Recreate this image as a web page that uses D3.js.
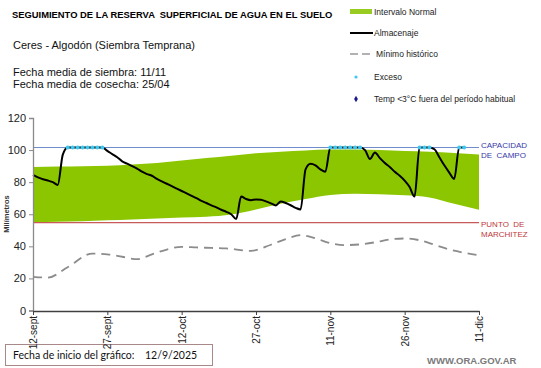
<!DOCTYPE html>
<html><head><meta charset="utf-8">
<script src="https://cdn.jsdelivr.net/npm/d3@7"></script>
<style>body{margin:0;background:#fff}svg{display:block}text{font-family:Arial,"Liberation Sans",sans-serif}</style>
</head><body><svg id="c" width="541" height="368"></svg>
<script>
// ---- data ----
const startDate = new Date(2025, 8, 12);
const xTickDays = [0, 15, 30, 45, 60, 75, 90];
const xTickLabels = ["12-sept", "27-sept", "12-oct", "27-oct", "11-nov", "26-nov", "11-dic"];
const yTicks = [0, 20, 40, 60, 80, 100, 120];
const capacidad = 101.6;
const marchitez = 54.8;
// Intervalo normal (every 5 days)
const bandDays  = [0, 5, 10, 15, 20, 25, 30, 35, 40, 45, 50, 55, 60, 65, 70, 75, 80, 85, 90];
const bandUpper = [89.5, 89.8, 90, 90.2, 91, 92, 93.5, 95, 96.5, 98, 99, 99.8, 100.3, 100.3, 100, 99.5, 99, 98.2, 97.2];
const bandLower = [55, 55.3, 55.7, 56.2, 56.8, 57.4, 57.9, 58.4, 59.8, 63, 66.5, 69.5, 72, 72.8, 72.5, 71.8, 70.5, 66.5, 62.8];
// Almacenaje (daily, from start date)
const almacenaje = [84.5, 83, 81.8, 81, 80, 78.3, 97, 101.6, 101.6, 101.6, 101.6, 101.6, 101.6, 101.6, 101.6,
  99.5, 97.5, 95.5, 93, 91.5, 90, 88.5, 86.5, 85, 84, 82, 80.5, 79, 77.5, 76, 74.5, 73, 71.5, 70, 68.3, 67,
  65.5, 64.3, 62.8, 61.5, 60, 57, 71, 69.5, 68.8, 69.2, 69, 68, 66.8, 65.5, 68, 67, 65.6, 64, 63, 88, 91.5,
  90.5, 88, 86.5, 101.6, 101.6, 101.6, 101.6, 101.6, 101.6, 101.6, 100, 94.5, 98.5, 95, 92, 89.5, 86.5, 84,
  81, 77, 71, 101.6, 101.6, 101.6, 100.5, 95.5, 90.5, 86, 82, 101.6, 101.6];
// Exceso (days at field capacity)
const excesoDays = [7, 8, 9, 10, 11, 12, 13, 14, 60, 61, 62, 63, 64, 65, 66, 78, 79, 80, 86, 87];
// Mínimo histórico
const minDays = [0, 3, 7, 12, 15, 18, 21, 24, 27, 30, 33, 36, 39, 44, 48, 51, 54, 57, 60, 63, 66, 69, 72, 75, 78, 81, 84, 87, 90];
const minVals = [21, 20.5, 27, 35.5, 35, 33.5, 32, 35, 38, 39.7, 39.3, 39, 38.7, 37.2, 41, 44.5, 47, 45, 42, 40.8, 41.2, 42.5, 44.3, 44.9, 43.8, 41, 38, 36, 34.5];

// ---- chart ----
const dayToDate = d => d3.timeDay.offset(startDate, d);
const svg = d3.select("#c");
const x = d3.scaleTime().domain([dayToDate(0), dayToDate(90)]).range([33, 479]);
const y = d3.scaleLinear().domain([0, 120]).range([310.5, 118]);

// footer box (behind everything)
svg.append("rect").attr("x", 5.5).attr("y", 344.5).attr("width", 207).attr("height", 21).attr("fill", "none").attr("stroke", "#a88888");

// band
const area = d3.area().x((d, i) => x(dayToDate(bandDays[i]))).y0((d, i) => y(bandLower[i])).y1((d, i) => y(bandUpper[i])).curve(d3.curveMonotoneX);
svg.append("path").attr("d", area(bandDays)).attr("fill", "#8cc600");

// reference lines
svg.append("line").attr("x1", x(dayToDate(0))).attr("x2", x(dayToDate(90))).attr("y1", y(capacidad)).attr("y2", y(capacidad)).attr("stroke", "#6f8ccc").attr("stroke-width", 1.2);
svg.append("line").attr("x1", x(dayToDate(0))).attr("x2", x(dayToDate(90))).attr("y1", y(marchitez)).attr("y2", y(marchitez)).attr("stroke", "#c85a5a").attr("stroke-width", 1.2);

// minimo historico
const minLine = d3.line().x((d, i) => x(dayToDate(minDays[i]))).y((d, i) => y(minVals[i])).curve(d3.curveMonotoneX);
svg.append("path").attr("d", minLine(minDays)).attr("fill", "none").attr("stroke", "#8c8c8c").attr("stroke-width", 1.8).attr("stroke-dasharray", "9,6");

// almacenaje
const almLine = d3.line().x((d, i) => x(dayToDate(i))).y(d => y(d)).curve(d3.curveMonotoneX);
svg.append("path").attr("d", almLine(almacenaje)).attr("fill", "none").attr("stroke", "#000").attr("stroke-width", 2);

// exceso
svg.selectAll(".exc").data(excesoDays).enter().append("circle")
  .attr("cx", d => x(dayToDate(d))).attr("cy", d => y(almacenaje[d])).attr("r", 2).attr("fill", "#3cc8f0");

// axes
const yAxis = svg.append("g").attr("transform", "translate(33,0)").call(d3.axisLeft(y).tickValues(yTicks).tickSize(4).tickPadding(3));
yAxis.select(".domain").attr("stroke", "#8a8a8a").attr("stroke-width", 1.3);
yAxis.selectAll(".tick line").attr("stroke", "#8a8a8a");
yAxis.selectAll("text").attr("font-size", 11).attr("fill", "#222").attr("font-family", "Arial");

const xAxis = svg.append("g").attr("transform", "translate(0,311)").call(
  d3.axisBottom(x).tickValues(xTickDays.map(dayToDate)).tickFormat((d, i) => xTickLabels[i]).tickSize(4).tickSizeOuter(0));
xAxis.select(".domain").attr("stroke", "#404040").attr("stroke-width", 1.3);
xAxis.selectAll(".tick line").attr("stroke", "#404040");
xAxis.selectAll("text").attr("font-size", 10).attr("fill", "#222").attr("font-family", "Arial")
  .attr("transform", "rotate(-90)").attr("text-anchor", "end").attr("x", -5).attr("y", 0).attr("dy", "0.35em");

svg.append("text").attr("transform", "translate(9,214) rotate(-90)").attr("text-anchor", "middle")
  .attr("font-size", 7.5).attr("font-weight", "bold").attr("fill", "#333").text("Milímetros");

// right labels
const rl = svg.append("g").attr("font-size", 8).attr("font-family", "Arial");
rl.append("text").attr("x", 481).attr("y", 148).attr("fill", "#3838a8").text("CAPACIDAD");
rl.append("text").attr("x", 481).attr("y", 158).attr("fill", "#3838a8").text("DE  CAMPO").style("white-space", "pre");
rl.append("text").attr("x", 481).attr("y", 227).attr("fill", "#c0383a").text("PUNTO  DE").style("white-space", "pre");
rl.append("text").attr("x", 481).attr("y", 237).attr("fill", "#c0383a").text("MARCHITEZ");

// titles
svg.append("text").attr("x", 12).attr("y", 18).attr("font-size", 9.4).attr("font-weight", "bold").attr("fill", "#000")
  .style("white-space", "pre").text("SEGUIMIENTO DE LA RESERVA  SUPERFICIAL DE AGUA EN EL SUELO");
svg.append("text").attr("x", 13).attr("y", 49).attr("font-size", 11).attr("fill", "#111").text("Ceres - Algodón (Siembra Temprana)");
svg.append("text").attr("x", 13).attr("y", 75.5).attr("font-size", 11).attr("fill", "#111").text("Fecha media de siembra: 11/11");
svg.append("text").attr("x", 13).attr("y", 87.5).attr("font-size", 11).attr("fill", "#111").text("Fecha media de cosecha: 25/04");

// legend
const lg = svg.append("g").attr("font-size", 8.5).attr("fill", "#222");
lg.append("rect").attr("x", 350).attr("y", 9).attr("width", 22).attr("height", 5).attr("fill", "#99cc22");
lg.append("text").attr("x", 374).attr("y", 15).text("Intervalo Normal");
lg.append("line").attr("x1", 350).attr("x2", 373).attr("y1", 33).attr("y2", 33).attr("stroke", "#000").attr("stroke-width", 2);
lg.append("text").attr("x", 374).attr("y", 36).text("Almacenaje");
lg.append("line").attr("x1", 350).attr("x2", 372).attr("y1", 54).attr("y2", 54).attr("stroke", "#999").attr("stroke-width", 1.3).attr("stroke-dasharray", "8,4");
lg.append("text").attr("x", 376).attr("y", 57).text("Mínimo histórico");
lg.append("circle").attr("cx", 356).attr("cy", 77).attr("r", 1.6).attr("fill", "#3cc8f0");
lg.append("text").attr("x", 374).attr("y", 80).text("Exceso");
lg.append("path").attr("d", d3.symbol().type(d3.symbolDiamond).size(12)()).attr("transform", "translate(356,99)").attr("fill", "#1a1a8c");
lg.append("text").attr("x", 374).attr("y", 102).text("Temp <3°C fuera del período habitual");

// footer
svg.append("text").attr("x", 13).attr("y", 359).attr("font-size", 10.5).attr("fill", "#111").style("font-family", "Lato,Arial").text("Fecha de inicio del gráfico:");
svg.append("text").attr("x", 145).attr("y", 359).attr("font-size", 10.5).attr("fill", "#111").style("font-family", "Lato,Arial").text("12/9/2025");
svg.append("text").attr("x", 427).attr("y", 364).attr("font-size", 9.5).attr("font-weight", "bold").attr("fill", "#7a7a7a").text("WWW.ORA.GOV.AR");
</script></body></html>
